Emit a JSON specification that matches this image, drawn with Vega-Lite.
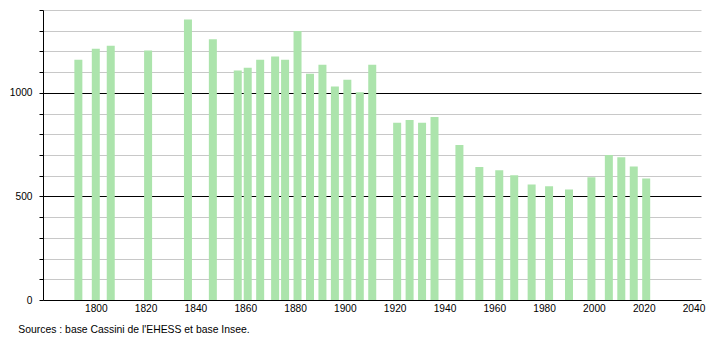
{
  "$schema": "https://vega.github.io/schema/vega-lite/v6.json",
  "autosize": "none",
  "width": 658,
  "height": 290,
  "padding": {"left": 43, "top": 10, "right": 9, "bottom": 40},
  "background": "white",
  "config": {
    "view": {"stroke": null},
    "font": "Liberation Sans"
  },
  "title": {
    "text": "Sources : base Cassini de l'EHESS et base Insee.",
    "orient": "bottom",
    "anchor": "start",
    "fontSize": 10.4,
    "fontWeight": "normal",
    "font": "Liberation Sans",
    "color": "#000",
    "dx": 9,
    "offset": 12
  },
  "data": {
    "values": [
      {"year": 1793, "population": 1160},
      {"year": 1800, "population": 1213},
      {"year": 1806, "population": 1228},
      {"year": 1821, "population": 1205},
      {"year": 1837, "population": 1354},
      {"year": 1847, "population": 1259},
      {"year": 1857, "population": 1108},
      {"year": 1861, "population": 1121},
      {"year": 1866, "population": 1160},
      {"year": 1872, "population": 1175},
      {"year": 1876, "population": 1160},
      {"year": 1881, "population": 1299},
      {"year": 1886, "population": 1092},
      {"year": 1891, "population": 1136},
      {"year": 1896, "population": 1031},
      {"year": 1901, "population": 1063},
      {"year": 1906, "population": 1003},
      {"year": 1911, "population": 1136},
      {"year": 1921, "population": 856},
      {"year": 1926, "population": 869},
      {"year": 1931, "population": 856},
      {"year": 1936, "population": 883},
      {"year": 1946, "population": 748},
      {"year": 1954, "population": 642},
      {"year": 1962, "population": 626},
      {"year": 1968, "population": 602},
      {"year": 1975, "population": 558},
      {"year": 1982, "population": 549},
      {"year": 1990, "population": 534},
      {"year": 1999, "population": 592},
      {"year": 2006, "population": 700},
      {"year": 2011, "population": 689},
      {"year": 2016, "population": 644},
      {"year": 2021, "population": 586}
    ]
  },
  "mark": {"type": "bar", "width": 8, "color": "#ace4ac"},
  "encoding": {
    "x": {
      "field": "year",
      "type": "quantitative",
      "scale": {"domain": [1778.8, 2043], "nice": false, "zero": false, "padding": 0},
      "axis": {
        "title": null,
        "values": [1800, 1820, 1840, 1860, 1880, 1900, 1920, 1940, 1960, 1980, 2000, 2020, 2040],
        "format": "d",
        "grid": false,
        "ticks": false,
        "domainColor": "#000",
        "domainWidth": 1,
        "labelFontSize": 10.2,
        "labelColor": "#000",
        "labelPadding": 3,
        "labelFont": "Liberation Sans"
      }
    },
    "y": {
      "field": "population",
      "type": "quantitative",
      "scale": {"domain": [0, 1400], "nice": false},
      "axis": {
        "title": null,
        "values": [0, 100, 200, 300, 400, 500, 600, 700, 800, 900, 1000, 1100, 1200, 1300, 1400],
        "labelExpr": "datum.value % 500 === 0 ? datum.value : ''",
        "grid": true,
        "gridColor": {"condition": {"test": "datum.value === 500 || datum.value === 1000", "value": "#000"}, "value": "#c8c8c8"},
        "gridWidth": 1,
        "domainColor": "#000",
        "tickColor": "#000",
        "tickSize": 4,
        "labelFontSize": 10.2,
        "labelColor": "#000",
        "labelPadding": 7,
        "labelFont": "Liberation Sans"
      }
    }
  }
}
